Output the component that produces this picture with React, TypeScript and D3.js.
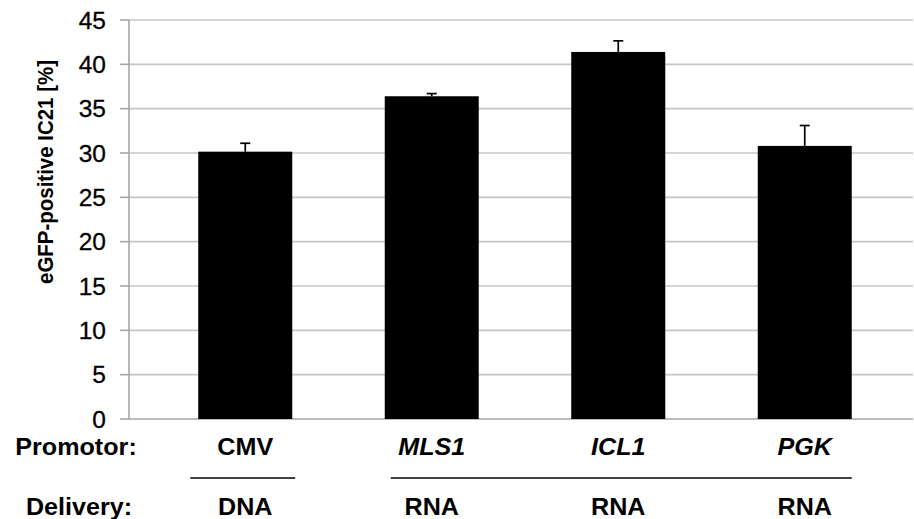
import React from "react";
import * as d3 from "d3";

const promotors = ["CMV", "MLS1", "ICL1", "PGK"];
const italicPromotor = [false, true, true, true];
const deliveries = ["DNA", "RNA", "RNA", "RNA"];
const values = [30.15, 36.4, 41.4, 30.8];
const errors = [0.95, 0.3, 1.25, 2.3];
const yTicks = [0, 5, 10, 15, 20, 25, 30, 35, 40, 45];
const yTitle = "eGFP-positive IC21 [%]";
const rowLabels = ["Promotor:", "Delivery:"];

const W = 914;
const H = 519;
const SX = 1.07;
const FONT = "'Liberation Sans', Arial, sans-serif";

export default function App() {
  const y = d3.scaleLinear().domain([0, 45]).range([419, 20]);
  const x = d3
    .scaleBand<string>()
    .domain(promotors)
    .range([152, 898])
    .paddingInner(0.496)
    .paddingOuter(0.248);
  const bw = x.bandwidth();
  const axisX = 129;
  const right = 913;

  return (
    <svg
      width={W}
      height={H}
      style={{ position: "absolute", left: 0, top: 0, background: "#fff" }}
      fontFamily={FONT}
    >
      {/* gridlines */}
      {yTicks.map((t) => (
        <line
          key={"g" + t}
          x1={axisX}
          x2={right}
          y1={y(t)}
          y2={y(t)}
          stroke={t === 0 ? "#a6a6a6" : "#c6c6c6"}
          strokeWidth={1.6}
        />
      ))}
      {/* y axis */}
      <line x1={axisX} x2={axisX} y1={y(45)} y2={y(0)} stroke="#a6a6a6" strokeWidth={1.6} />
      {yTicks.map((t) => (
        <g key={"t" + t}>
          <line x1={120} x2={axisX} y1={y(t)} y2={y(t)} stroke="#a6a6a6" strokeWidth={1.6} />
          <text
            x={106}
            y={y(t) + 8.7}
            textAnchor="end"
            fontSize={24.5}
            fill="#000"
            stroke="#000"
            strokeWidth={0.3}
          >
            {t}
          </text>
        </g>
      ))}
      {/* y title */}
      <text
        transform={`translate(52.5,172) scale(1,0.93) rotate(-90)`}
        textAnchor="middle"
        fontSize={22}
        fontWeight="bold"
        fill="#000"
      >
        {yTitle}
      </text>
      {/* bars */}
      {promotors.map((p, i) => (
        <rect
          key={"b" + p}
          x={x(p)}
          y={y(values[i])}
          width={bw}
          height={y(0) - y(values[i])}
          fill="#000"
        />
      ))}
      {/* error bars */}
      {promotors.map((p, i) => {
        const cx = (x(p) as number) + bw / 2;
        const top = y(values[i] + errors[i]);
        return (
          <g key={"e" + p} stroke="#000" strokeWidth={1.7}>
            <line x1={cx} x2={cx} y1={y(values[i])} y2={top} />
            <line x1={cx - 5} x2={cx + 5} y1={top} y2={top} />
          </g>
        );
      })}
      {/* row labels */}
      <text
        transform={`translate(76,455) scale(${SX},1)`}
        textAnchor="middle"
        fontSize={23.5}
        fontWeight="bold"
      >
        {rowLabels[0]}
      </text>
      <text
        transform={`translate(79,515) scale(${SX},1)`}
        textAnchor="middle"
        fontSize={23.5}
        fontWeight="bold"
      >
        {rowLabels[1]}
      </text>
      {/* promotor labels */}
      {promotors.map((p, i) => (
        <text
          key={"p" + p}
          transform={`translate(${(x(p) as number) + bw / 2},455) scale(${SX},1)`}
          textAnchor="middle"
          fontSize={23.5}
          fontWeight="bold"
          fontStyle={italicPromotor[i] ? "italic" : "normal"}
        >
          {p}
        </text>
      ))}
      {/* delivery group lines */}
      <line
        x1={(x("CMV") as number) - 8}
        x2={(x("CMV") as number) + bw + 3}
        y1={478}
        y2={478}
        stroke="#000"
        strokeWidth={1.5}
      />
      <line
        x1={(x("MLS1") as number) + 6}
        x2={(x("PGK") as number) + bw}
        y1={478}
        y2={478}
        stroke="#000"
        strokeWidth={1.5}
      />
      {/* delivery labels */}
      {promotors.map((p, i) => (
        <text
          key={"d" + p}
          transform={`translate(${(x(p) as number) + bw / 2},515) scale(${SX},1)`}
          textAnchor="middle"
          fontSize={23.5}
          fontWeight="bold"
        >
          {deliveries[i]}
        </text>
      ))}
    </svg>
  );
}
